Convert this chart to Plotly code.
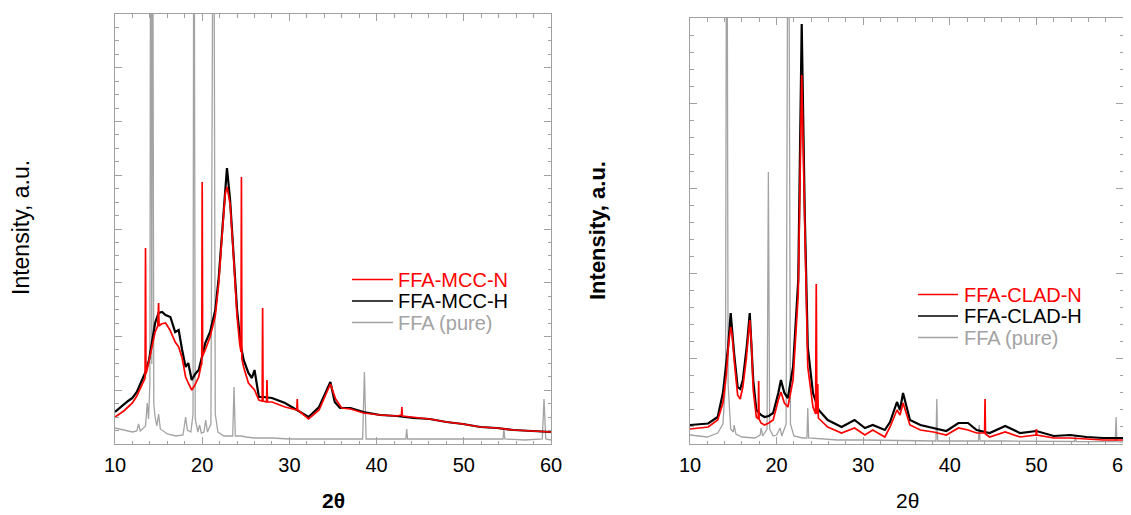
import plotly.graph_objects as go

# ---------------- data ----------------
# Left panel: FFA-MCC
mcc_n_x = [10.0, 10.5, 11.0, 11.5, 12.0, 12.5, 13.0, 13.4, 13.45, 13.5, 13.55, 13.7, 14.0, 14.3, 14.6, 14.9, 15.0, 15.05,
           15.3, 15.8, 16.3, 16.9, 17.3, 17.7, 18.1, 18.4, 18.8, 19.1, 19.6, 19.9, 19.95, 20.0, 20.05, 20.35, 20.9,
           21.5, 21.9, 22.3, 22.65, 22.85, 23.2, 23.6, 24.0, 24.3, 24.45, 24.5, 24.55, 24.75, 25.3, 26.0, 26.5,
           26.88, 26.93, 26.98, 27.38, 27.43, 27.48, 28.0, 29.5, 30.85, 30.9, 30.95, 32.2, 33.4, 34.1, 34.7, 35.3,
           36.0, 37.0, 38.5, 40.4, 42.3, 42.85, 42.9, 42.95, 44.2, 46.1, 48.0, 49.9, 51.9, 53.8, 55.7, 57.6, 60.0]
mcc_n_y = [27, 30, 33, 37, 41, 48, 58, 66, 66, 196, 70, 75, 88, 100, 112, 118, 141, 118,
           120, 121, 114, 102, 97, 86, 67, 61, 54, 58, 67, 80, 80, 262, 88, 94, 107,
           128, 161, 211, 251, 257, 240, 187, 127, 100, 92, 267, 85, 77, 61, 54, 44,
           43, 136, 43, 42, 64, 42, 42, 37, 34, 45, 34, 25, 34, 48, 60, 45,
           36, 35, 31, 29, 28, 29, 37, 28, 27, 25, 22, 20, 17, 16, 14, 13, 12]

mcc_h_x = [10.0, 10.5, 11.0, 11.5, 12.0, 12.5, 13.0, 13.5, 13.9, 14.2, 14.6, 15.0, 15.4, 15.8, 16.35, 16.9, 17.3,
           17.7, 18.1, 18.4, 18.8, 19.2, 19.6, 20.0, 20.35, 20.9, 21.5, 21.9, 22.3, 22.65, 22.84, 23.2, 23.6,
           24.0, 24.4, 24.75, 25.3, 25.7, 26.0, 26.3, 26.5, 27.0, 28.0, 29.5, 30.9, 32.2, 33.4, 34.1, 34.7,
           35.2, 35.8, 37.0, 38.5, 40.4, 42.3, 44.2, 46.1, 48.0, 49.9, 51.9, 53.8, 55.7, 57.6, 60.0]
mcc_h_y = [32, 36, 40, 43, 46, 52, 62, 72, 84, 100, 121, 131, 132, 129, 127, 112, 114,
           94, 77, 81, 64, 70, 74, 88, 101, 112, 134, 167, 217, 261, 276, 244, 194,
           134, 100, 84, 71, 66, 74, 58, 47, 47, 46, 41, 34, 27, 37, 51, 62,
           42, 36, 36, 32, 29, 28, 26, 25, 22, 20, 17, 16, 14, 13, 12]

ffa_l_x = [10.0, 11.0, 12.0, 12.5, 12.7, 12.9, 13.5, 13.7, 13.85, 14.0, 14.1, 14.22, 14.3, 14.45, 14.6, 14.8,
           15.0, 15.2, 16.0, 17.0, 17.8, 18.1, 18.3, 18.7, 18.95, 19.05, 19.2, 19.5, 19.7, 19.9, 20.2, 20.4,
           20.6, 21.0, 21.3, 21.5, 21.8, 22.5, 23.5, 23.65, 23.8, 24.5, 25.0, 26.0, 28.0, 30.0, 32.0, 35.0,
           38.4, 38.6, 38.8, 41.0, 43.35, 43.45, 43.55, 46.0, 50.0, 54.5, 54.6, 54.7, 57.0, 59.0, 59.2, 59.4, 60.0]
ffa_l_y = [16, 14, 12, 13, 20, 13, 18, 41, 25, 60, 700, 80, 700, 40, 27, 18,
           30, 15, 10, 8, 9, 27, 14, 12, 30, 700, 25, 12, 19, 11, 12, 24,
           12, 20, 700, 30, 12, 8, 8, 57, 8, 8, 7, 6, 6, 5, 5, 5,
           5, 72, 5, 5, 5, 15, 5, 5, 5, 5, 16, 5, 4, 5, 45, 5, 4]

# Right panel: FFA-CLAD
clad_n_x = [10.0, 11.0, 12.1, 13.2, 13.8, 14.2, 14.45, 14.7, 14.85, 15.1, 15.5, 15.8, 16.1, 16.5, 16.9, 17.1,
            17.3, 17.66, 17.88, 17.93, 17.98, 18.2, 18.6, 19.1, 19.6, 20.2, 20.5, 20.9, 21.3, 21.9, 22.5, 22.9,
            23.25, 23.6, 24.2, 24.5, 24.58, 24.65, 24.75, 24.82, 25.9, 27.5, 29.0, 30.2, 31.1, 32.5, 33.1, 33.9,
            34.25, 34.6, 35.4, 36.6, 38.1, 39.6, 41.0, 42.1, 43.1, 44.02, 44.07, 44.12, 44.6, 46.4, 48.1, 49.95,
            50.0, 50.05, 52.0, 53.9, 55.8, 57.7, 60.0]
clad_n_y = [15, 16, 17, 24, 41, 70, 100, 117, 110, 84, 49, 45, 57, 85, 124, 100,
            54, 27, 25, 63, 25, 21, 19, 21, 24, 44, 52, 41, 37, 64, 150, 369,
            204, 77, 37, 30, 160, 30, 60, 26, 17, 11, 16, 9, 14, 7, 17, 34,
            29, 41, 19, 14, 12, 9, 16, 14, 11, 11, 45, 10, 7, 12, 7, 9,
            15, 9, 6, 6, 5, 4, 4]

clad_h_x = [10.0, 11.0, 12.1, 13.2, 13.8, 14.4, 14.7, 15.1, 15.5, 15.8, 16.1, 16.55, 16.9, 17.3, 17.66, 18.2,
            18.6, 19.1, 19.6, 20.2, 20.5, 20.9, 21.3, 21.9, 22.5, 22.9, 23.25, 23.6, 24.2, 24.86, 25.9, 27.5,
            29.0, 30.2, 31.1, 32.5, 33.1, 33.9, 34.25, 34.6, 35.4, 36.6, 38.1, 39.6, 41.0, 42.1, 43.1, 44.6,
            46.4, 48.1, 50.0, 52.0, 53.9, 55.8, 57.7, 60.0]
clad_h_y = [19, 20, 20.5, 27, 51, 97, 131, 90, 57, 55, 64, 97, 131, 64, 34, 29,
            27, 28, 31, 51, 64, 51, 46, 77, 164, 420, 231, 97, 51, 34, 24, 17,
            24, 16, 19, 14, 22, 42, 34, 51, 24, 19, 16, 13, 21, 21, 14, 11,
            18, 11, 13, 8, 9, 7, 6, 6]

ffa_r_x = [10.0, 12.0, 13.2, 13.8, 14.1, 14.25, 14.4, 14.7, 15.0, 15.1, 15.3, 16.0, 17.5, 18.1, 18.2, 18.4,
           18.9, 19.05, 19.2, 19.6, 20.0, 20.4, 20.6, 21.1, 21.35, 21.6, 22.0, 23.0, 23.5, 23.6, 23.7, 25.0,
           27.0, 30.0, 35.0, 38.4, 38.5, 38.6, 41.0, 43.3, 43.4, 43.5, 46.0, 50.0, 54.4, 54.5, 54.6, 57.0,
           59.1, 59.2, 59.3, 60.0]
ffa_r_y = [9, 7, 11, 20, 60, 700, 60, 15, 12, 19, 10, 7, 6, 9, 16, 8,
           15, 272, 15, 8, 9, 16, 8, 20, 700, 20, 8, 6, 6, 36, 6, 5,
           4, 4, 3, 3, 45, 3, 3, 3, 19, 3, 3, 2.5, 2.5, 9, 2.5, 2.3,
           2.3, 27, 2.3, 2]

legend_left = ["FFA-MCC-N", "FFA-MCC-H", "FFA (pure)"]
legend_right = ["FFA-CLAD-N", "FFA-CLAD-H", "FFA (pure)"]

# ---------------- styling ----------------
OFF = 8                      # the page body adds an 8 px margin
W, H = 1131 - OFF, 515 - OFF
RED, BLACK, GRAY = "#ff0000", "#000000", "#a3a3a3"
FRAME = "#a0a0a0"
FONT = "Liberation Sans, Arial, Helvetica, sans-serif"

def px(x):
    return (x - OFF) / W

def py(y):
    return (H - (y - OFF)) / H

fig = go.Figure()

def add(xs, ys, color, width, xa, ya, name):
    fig.add_trace(go.Scatter(x=xs, y=ys, mode="lines", name=name, showlegend=False,
                             line=dict(color=color, width=width), xaxis=xa, yaxis=ya,
                             hoverinfo="skip"))

add(ffa_l_x, ffa_l_y, GRAY, 1.3, "x", "y", legend_left[2])
add(mcc_h_x, mcc_h_y, BLACK, 2.2, "x", "y", legend_left[1])
add(mcc_n_x, mcc_n_y, RED, 1.7, "x", "y", legend_left[0])
add(ffa_r_x, ffa_r_y, GRAY, 1.3, "x2", "y2", legend_right[2])
add(clad_h_x, clad_h_y, BLACK, 2.2, "x2", "y2", legend_right[1])
add(clad_n_x, clad_n_y, RED, 1.7, "x2", "y2", legend_right[0])

def xax(domain, anchor):
    return dict(domain=domain, anchor=anchor, range=[10, 60], tick0=10, dtick=10, ticks="inside", ticklen=7,
                tickcolor=FRAME, tickwidth=1, showline=True, linecolor=FRAME, linewidth=1,
                mirror="ticks", showgrid=False, zeroline=False, automargin=False,
                ticklabelstandoff=3, ticklabeloverflow="allow",
                tickfont=dict(family=FONT, size=20, color="#000"),
                minor=dict(dtick=2, ticks="inside", ticklen=3.5, tickcolor=FRAME, showgrid=False))

def yax(domain, anchor, top, major, nminor):
    return dict(domain=domain, anchor=anchor, range=[0, top], tick0=0, dtick=major, ticks="inside", ticklen=7,
                tickcolor=FRAME, tickwidth=1, showline=True, linecolor=FRAME, linewidth=1,
                mirror="ticks", showgrid=False, zeroline=False, showticklabels=False, automargin=False,
                minor=dict(dtick=major / nminor, ticks="inside", ticklen=3.5,
                           tickcolor=FRAME, showgrid=False))

fig.update_layout(
    template="none",
    width=W, height=H, margin=dict(l=0, r=0, t=0, b=0, autoexpand=False),
    paper_bgcolor="white", plot_bgcolor="white", showlegend=False,
    xaxis=xax([px(115), px(551)], "y"),
    yaxis=yax([py(444), py(14)], "x", 430, 53.75, 4),
    xaxis2=xax([px(690), px(1123)], "y2"),
    yaxis2=yax([py(444), py(18)], "x2", 426, 85.2, 5),
)

annos = []
def title(text, x, y, size, angle=0):
    annos.append(dict(text=text, x=px(x), y=py(y), xref="paper", yref="paper",
                      xanchor="center", yanchor="middle", textangle=angle, showarrow=False,
                      font=dict(family=FONT, size=size, color="#000")))

title("<b>2θ</b>", 333, 500, 21)
title("2θ", 907, 500, 21)
title("Intensity, a.u.", 21, 228, 23, -90)
title("<b>Intensity, a.u.</b>", 597, 231, 22, -90)

shapes = []
def legend(names, x0, x1, tx, ys):
    for name, col, yy in zip(names, [RED, BLACK, GRAY], ys):
        shapes.append(dict(type="line", xref="paper", yref="paper", x0=px(x0), x1=px(x1),
                           y0=py(yy), y1=py(yy), line=dict(color=col, width=1.3)))
        annos.append(dict(text=name, x=px(tx), y=py(yy), xref="paper", yref="paper",
                          xanchor="left", yanchor="middle", showarrow=False, borderpad=0,
                          font=dict(family=FONT, size=20, color=col)))

legend(legend_left, 352, 393, 397, [279.5, 301, 322.5])
legend(legend_right, 918, 958, 963, [294.5, 316, 337.5])

fig.update_layout(annotations=annos, shapes=shapes)
fig.write_html("out.html")
